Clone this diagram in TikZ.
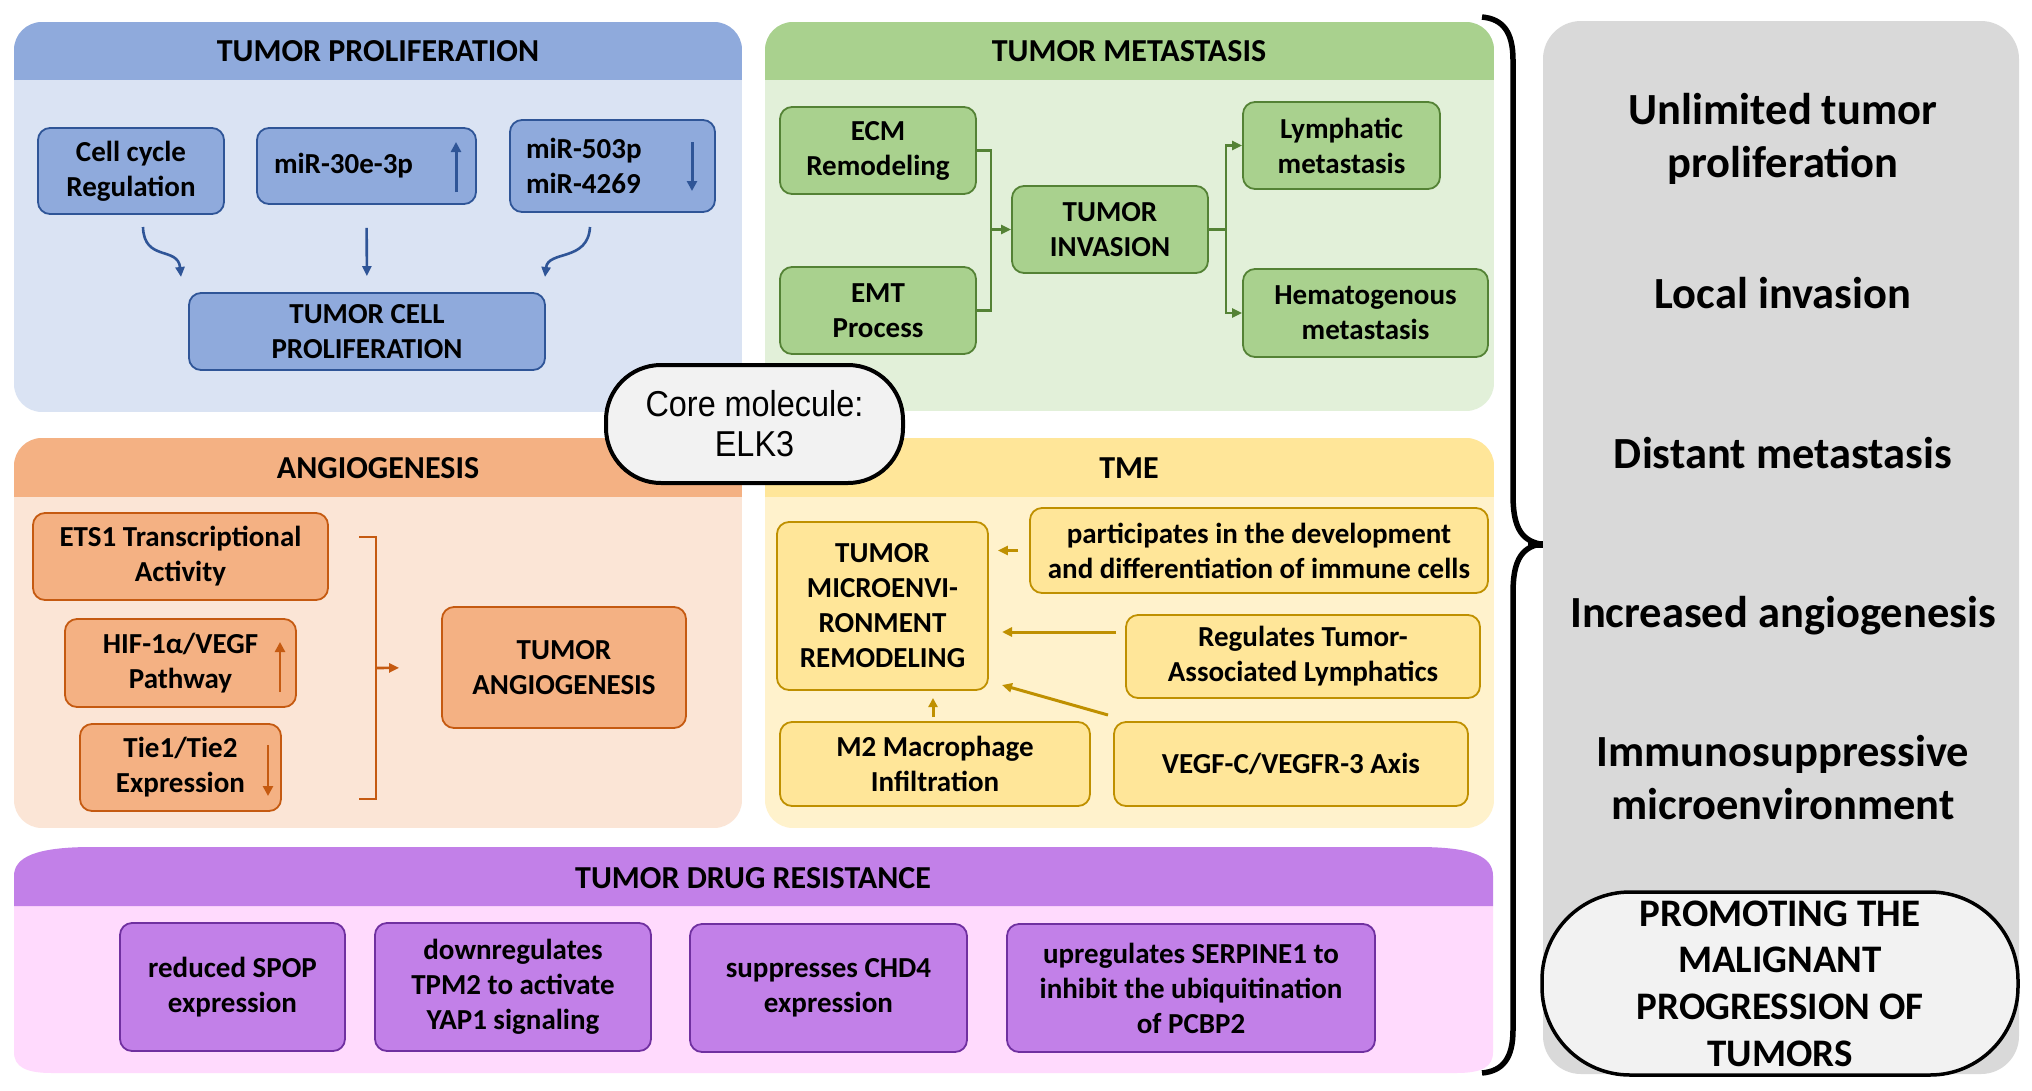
\documentclass[tikz,border=0pt]{standalone}
\usepackage{fontspec}
\setmainfont{Carlito}
\newfontfamily\arialfont[FakeStretch=0.9]{Liberation Sans}
\usetikzlibrary{arrows.meta,calc}
\definecolor{bhdr}{HTML}{8FAADC}
\definecolor{bbody}{HTML}{DAE3F3}
\definecolor{bdark}{HTML}{2F5597}
\definecolor{ghdr}{HTML}{A9D18E}
\definecolor{gbody}{HTML}{E2F0D9}
\definecolor{gdark}{HTML}{548235}
\definecolor{ohdr}{HTML}{F4B183}
\definecolor{obody}{HTML}{FBE5D6}
\definecolor{odark}{HTML}{C55A11}
\definecolor{yhdr}{HTML}{FFE699}
\definecolor{ybody}{HTML}{FFF2CC}
\definecolor{ydark}{HTML}{BF9000}
\definecolor{phdr}{HTML}{C280E8}
\definecolor{pbody}{HTML}{FFDAFD}
\definecolor{pdark}{HTML}{7030A0}
\definecolor{grayp}{HTML}{D9D9D9}
\definecolor{lightf}{HTML}{F2F2F2}
\newcommand\drawpanel[7]{%
  \begin{scope}
    \clip[rounded corners=28pt] (#1,#2) rectangle (#3,#4);
    \fill[#6] (#1,#2) rectangle (#3,#4);
    \fill[#7] (#1,#2) rectangle (#3,#5);
  \end{scope}}
\tikzset{
  box/.style={draw, rounded corners=12pt, line width=1.8pt, align=center, inner sep=2pt,
    font=\bfseries\fontsize{29}{35}\selectfont},
  bbox/.style={box, fill=bhdr, draw=bdark},
  gbox/.style={box, fill=ghdr, draw=gdark},
  obox/.style={box, fill=ohdr, draw=odark},
  ybox/.style={box, fill=yhdr, draw=ydark},
  pbox/.style={box, fill=phdr, draw=pdark},
  hdrtext/.style={font=\bfseries\fontsize{32}{38}\selectfont},
  sidetext/.style={align=center, font=\bfseries\fontsize{44.5}{53}\selectfont},
  tip/.style={-{Triangle[length=10pt,width=9pt]}},
  smalltip/.style={-{Triangle[length=10pt,width=10pt]}},
  barr/.style={tip, draw=bdark, line width=2.6pt},
  garr/.style={tip, draw=gdark, line width=2.6pt},
  gline/.style={draw=gdark, line width=2.6pt},
  oarr/.style={tip, draw=odark, line width=2.6pt},
  oline/.style={draw=odark, line width=2.6pt},
  yarr/.style={tip, draw=ydark, line width=3pt},
}
\begin{document}
\begin{tikzpicture}[x=1pt,y=-1pt]
\useasboundingbox[fill=white] (0,0) rectangle (2032,1090);

% ---------- panels ----------
\drawpanel{14}{22}{742}{412}{80}{bbody}{bhdr}
\drawpanel{765}{22}{1494}{411}{80}{gbody}{ghdr}
\drawpanel{14}{438}{742}{828}{497}{obody}{ohdr}
\drawpanel{765}{438}{1494}{828}{497}{ybody}{yhdr}
\fill[pbody] (14,906) -- (14,1052) .. controls (14,1067) and (26,1073) .. (52,1073) -- (1456,1073) .. controls (1482,1073) and (1493,1067) .. (1493,1052) -- (1493,906) -- cycle;
\fill[phdr] (14,906) -- (14,876) .. controls (14,857) and (36,847) .. (92,847) -- (1418,847) .. controls (1474,847) and (1493,857) .. (1493,876) -- (1493,906) -- cycle;

\node[hdrtext] (hprol) at (378,51) {TUMOR PROLIFERATION};
\node[hdrtext] (hmet) at (1129,51) {TUMOR METASTASIS};
\node[hdrtext] (hang) at (378,468) {ANGIOGENESIS};
\node[hdrtext] (htme) at (1129,468) {TME};
\node[hdrtext] (hdrug) at (753,878) {TUMOR DRUG RESISTANCE};

% ---------- tumor proliferation ----------
\node[bbox, minimum width=186pt, minimum height=86pt] (cc) at (131,171) {Cell cycle\\Regulation};
\node[bbox, minimum width=219pt, minimum height=76pt, text width=185pt, inner xsep=17pt, align=left] (mir30) at (366.5,166) {miR-30e-3p};
\node[bbox, minimum width=205pt, minimum height=92pt, text width=173pt, inner xsep=16pt, align=left] (mir503) at (612.5,166) {miR-503p\\miR-4269};
\node[bbox, minimum width=356pt, minimum height=77pt] (tcp) at (367,331.5) {TUMOR CELL\\PROLIFERATION};

\coordinate (ccs) at (143,227);
\coordinate (cce) at (181,277);
\coordinate (mrs) at (590,227);
\coordinate (mre) at (545,277);
\draw[barr] (ccs) .. controls (144,262) and (178,246) .. (cce);
\draw[barr] (mrs) .. controls (588,262) and (548,250) .. (mre);
\draw[barr, shorten <=23pt, shorten >=16pt] (mir30.south) -- (tcp.north);
\coordinate (up1a) at (456,192);
\coordinate (up1b) at (456,142);
\coordinate (dn1a) at (692,142);
\coordinate (dn1b) at (692,191);
\draw[barr, line width=3pt, smalltip] (up1a) -- (up1b);
\draw[barr, line width=3pt, smalltip] (dn1a) -- (dn1b);

% ---------- tumor metastasis ----------
\node[gbox, minimum width=196pt, minimum height=87pt] (ecm) at (878,150.5) {ECM\\Remodeling};
\node[gbox, minimum width=196pt, minimum height=87pt] (emt) at (878,310.5) {EMT\\Process};
\node[gbox, minimum width=196pt, minimum height=87pt] (inv) at (1110,229.5) {TUMOR\\INVASION};
\node[gbox, minimum width=197pt, minimum height=87pt] (lym) at (1341.5,145.5) {Lymphatic\\metastasis};
\node[gbox, minimum width=245pt, minimum height=88pt] (hem) at (1365.5,313) {Hematogenous\\metastasis};

\draw[gline] (ecm.east) -- ++(14,0) coordinate (mb) |- (emt.east);
\draw[garr] (mb |- inv.west) -- (inv.west);
\draw[gline] (inv.east) -- ++(17,0) coordinate (ms);
\draw[garr] (ms) |- (lym.west);
\draw[garr] (ms) |- (hem.west);

% ---------- angiogenesis ----------
\node[obox, minimum width=295pt, minimum height=87pt] (ets) at (180.5,556.5) {ETS1 Transcriptional\\Activity};
\node[obox, minimum width=231pt, minimum height=88pt] (hif) at (180.5,663) {HIF-1α/VEGF\\Pathway};
\node[obox, minimum width=201pt, minimum height=87pt] (tie) at (180.5,767.5) {Tie1/Tie2\\Expression};
\node[obox, minimum width=244pt, minimum height=121pt] (ang) at (564,667.5) {TUMOR\\ANGIOGENESIS};

\coordinate (bt) at (359,537);
\coordinate (bb) at (359,799);
\coordinate (bm) at (376,668);
\draw[oline] (bt) -- (376,537) -- (376,799) -- (bb);
\draw[oarr, shorten >=42pt] (bm) -- (ang.west);
\coordinate (up2a) at (280,692);
\coordinate (up2b) at (280,642);
\coordinate (dn2a) at (268,745);
\coordinate (dn2b) at (268,796);
\draw[oarr, line width=2.8pt, smalltip] (up2a) -- (up2b);
\draw[oarr, line width=2.8pt, smalltip] (dn2a) -- (dn2b);

% ---------- TME ----------
\node[ybox, minimum width=211pt, minimum height=168pt] (tmr) at (882.5,606) {TUMOR\\MICROENVI-\\RONMENT\\REMODELING};
\node[ybox, minimum width=458pt, minimum height=85pt] (part) at (1259,550.5) {participates in the development\\and differentiation of immune cells};
\node[ybox, minimum width=354pt, minimum height=83pt] (reg) at (1303,656.5) {Regulates Tumor-\\Associated Lymphatics};
\node[ybox, minimum width=310pt, minimum height=84pt] (m2) at (935,764) {M2 Macrophage\\Infiltration};
\node[ybox, minimum width=354pt, minimum height=84pt] (vegf) at (1291,764) {VEGF-C/VEGFR-3 Axis};

\draw[yarr, shorten <=11pt, shorten >=9pt] (part.west) -- (tmr.east |- part.west);
\coordinate (r1) at (1116,632);
\coordinate (r2) at (1002,632);
\coordinate (v1) at (1108,715);
\coordinate (v2) at (1002,685);
\coordinate (m2a) at (933,717);
\coordinate (m2b) at (933,698);
\draw[yarr] (r1) -- (r2);
\draw[yarr] (v1) -- (v2);
\draw[yarr, line width=3pt, -{Triangle[length=9pt,width=9pt]}] (m2a) -- (m2b);

% ---------- drug resistance ----------
\node[pbox, minimum width=225pt, minimum height=128pt] (spop) at (232.5,987) {reduced SPOP\\expression};
\node[pbox, minimum width=276pt, minimum height=128pt] (tpm) at (513,987) {downregulates\\TPM2 to activate\\YAP1 signaling};
\node[pbox, minimum width=277pt, minimum height=128pt] (chd) at (828.5,988) {suppresses CHD4\\expression};
\node[pbox, minimum width=368pt, minimum height=128pt] (serp) at (1191,988) {upregulates SERPINE1 to\\inhibit the ubiquitination\\of PCBP2};

% ---------- core molecule ----------
\node[draw, line width=4pt, fill=lightf, rounded corners=55pt, minimum width=297pt, minimum height=118pt,
  align=center, font=\arialfont\fontsize{36}{40}\selectfont] (core) at (754.5,424) {Core molecule:\\ELK3};

% ---------- brace ----------
\draw[line width=5.5pt] (1482,17) .. controls (1503,19) and (1513,32) .. (1513,60) -- (1513,495)
  .. controls (1513,525) and (1520,540) .. (1540,544) .. controls (1520,548) and (1513,563) .. (1513,593)
  -- (1513,1030) .. controls (1513,1058) and (1503,1071) .. (1482,1073);
\draw[line width=7pt] (1528,544) -- (1582,544);

% ---------- right summary ----------
\fill[grayp, rounded corners=38pt] (1543,21) rectangle (2019,1074);
\node[sidetext] (s1) at (1783,139) {Unlimited tumor\\proliferation};
\node[sidetext] (s2) at (1783,293) {Local invasion};
\node[sidetext] (s3) at (1783,453) {Distant metastasis};
\node[sidetext] (s4) at (1783,616) {Increased angiogenesis};
\node[sidetext] (s5) at (1783,778) {Immunosuppressive\\microenvironment};
\node[draw, line width=3.5pt, fill=lightf, rounded corners=88pt, minimum width=476pt, minimum height=183pt,
  inner sep=0pt, align=center, font=\bfseries\fontsize{39}{46.6}\selectfont] (prom) at (1780,983.5)
  {PROMOTING THE\\MALIGNANT\\PROGRESSION OF\\TUMORS};
\end{tikzpicture}
\end{document}
